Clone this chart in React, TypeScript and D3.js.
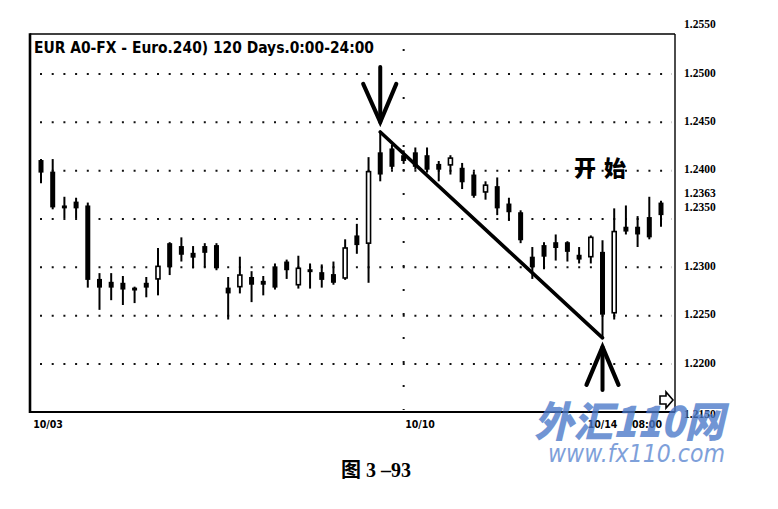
import React from "react";
import * as d3 from "d3";

// ---- data (4-hour candles, EUR) ----
const opens = [1.2411,1.2399,1.2364,1.2368,1.2364,1.2288,1.2285,1.2284,1.2279,1.2284,1.2288,1.2325,1.2322,1.2315,1.2322,1.2323,1.2279,1.2280,1.2290,1.2286,1.2301,1.2306,1.2282,1.2298,1.2295,1.2293,1.2289,1.2333,1.2325,1.2419,1.2423,1.2416,1.2419,1.2416,1.2407,1.2406,1.2403,1.2396,1.2378,1.2384,1.2366,1.2357,1.2311,1.2323,1.2326,1.2326,1.2313,1.2311,1.2316,1.2253,1.2342,1.2342,1.2352,1.2367];
const highs = [1.2412,1.2412,1.2373,1.2372,1.2367,1.2294,1.2294,1.2291,1.2280,1.2290,1.2320,1.2326,1.2331,1.2322,1.2325,1.2325,1.2290,1.2311,1.2296,1.2291,1.2304,1.2308,1.2312,1.2304,1.2303,1.2306,1.2329,1.2345,1.2414,1.2440,1.2427,1.2421,1.2424,1.2424,1.2410,1.2416,1.2408,1.2399,1.2389,1.2393,1.2372,1.2359,1.2321,1.2326,1.2334,1.2327,1.2321,1.2333,1.2328,1.2361,1.2364,1.2353,1.2373,1.2369];
const lows = [1.2387,1.2360,1.2351,1.2351,1.2279,1.2256,1.2266,1.2261,1.2263,1.2269,1.2271,1.2292,1.2306,1.2299,1.2300,1.2297,1.2246,1.2273,1.2264,1.2271,1.2277,1.2288,1.2278,1.2278,1.2279,1.2282,1.2287,1.2314,1.2284,1.2389,1.2401,1.2407,1.2401,1.2398,1.2389,1.2396,1.2381,1.2372,1.2370,1.2354,1.2348,1.2325,1.2288,1.2298,1.2307,1.2306,1.2304,1.2304,1.2227,1.2246,1.2334,1.2321,1.2329,1.2342];
const closes = [1.2398,1.2362,1.2361,1.2361,1.2287,1.2279,1.2279,1.2277,1.2276,1.2279,1.2301,1.2300,1.2313,1.2310,1.2315,1.2299,1.2273,1.2292,1.2282,1.2282,1.2279,1.2297,1.2299,1.2295,1.2287,1.2284,1.2320,1.2323,1.2399,1.2396,1.2404,1.2410,1.2404,1.2401,1.2401,1.2413,1.2388,1.2374,1.2385,1.2361,1.2357,1.2328,1.2300,1.2311,1.2320,1.2316,1.2308,1.2331,1.2251,1.2337,1.2337,1.2334,1.2331,1.2354];

const priceTicks = [1.255, 1.25, 1.245, 1.24, 1.2363, 1.235, 1.23, 1.225, 1.22, 1.215];
const gridValues = [1.25, 1.245, 1.24, 1.235, 1.23, 1.225, 1.22];
const dateLabels = ["10/03", "10/10", "10/14", "08:00"];
const dateIndex = [0.6, 32.4, 48, 51.8];
const dayLineIndex = [31];
const trendFrom = 29; // top candle index
const trendTo = 48; // bottom candle index
const titleText = "EUR A0-FX - Euro.240) 120 Days.0:00-24:00";
const noteText = "开始";
const captionText = "图 3 –93";

const W = 778;
const H = 509;

export default function App() {
  const x = d3.scaleLinear().domain([0, opens.length - 1]).range([41, 661]);
  const y = d3.scaleLinear().domain([1.215, 1.255]).range([412.3, 25.7]);

  const L = 30, R = 675, T = 34, B = 412;
  const bodyW = 5;

  const x1 = x(trendFrom), y1 = y(highs[trendFrom]);
  const x2 = x(trendTo), y2 = y(lows[trendTo]);

  const labelOffset = (v: number) => (v === 1.2363 ? -12 : v === 1.235 ? -11 : v === 1.215 ? 3 : 0);

  const line = d3.line();

  return (
    <svg width={W} height={H} style={{ position: "absolute", left: 0, top: 0, background: "#fff" }}>
      <rect width={W} height={H} fill="#fff" />
      {/* horizontal dotted grid */}
      {gridValues.map((v) => (
        <line key={v} x1={40} x2={672} y1={y(v)} y2={y(v)} stroke="#111" strokeWidth={2} strokeDasharray="2 9.7" />
      ))}
      {/* vertical dotted day line */}
      {dayLineIndex.map((i) => (
        <line key={i} x1={x(i)} x2={x(i)} y1={y(1.25) - 25} y2={B - 2} stroke="#111" strokeWidth={2} strokeDasharray="2 22" />
      ))}

      {/* frame */}
      <line x1={L} x2={R} y1={T} y2={T} stroke="#000" strokeWidth={1.6} />
      <line x1={R} x2={R} y1={T} y2={B} stroke="#000" strokeWidth={1.4} />
      <line x1={L} x2={R} y1={B} y2={B} stroke="#000" strokeWidth={2} />
      <line x1={L} x2={L} y1={T - 0.8} y2={B + 1} stroke="#000" strokeWidth={2.6} />

      {/* title */}
      <text x={34} y={53} fontFamily="'Liberation Sans Narrow','DejaVu Sans Condensed','Liberation Sans',sans-serif" fontWeight="bold" fontSize={16} textLength={340} lengthAdjust="spacingAndGlyphs" fill="#000">
        {titleText}
      </text>

      {/* candles */}
      {opens.map((o, i) => {
        const c = closes[i];
        const up = c > o;
        const top = y(Math.max(o, c));
        const bot = y(Math.min(o, c));
        const cx = x(i);
        return (
          <g key={i}>
            <line x1={cx} x2={cx} y1={y(highs[i])} y2={y(lows[i])} stroke="#000" strokeWidth={2} />
            {up ? (
              <rect x={cx - bodyW / 2 + 0.5} y={top} width={bodyW - 1} height={Math.max(bot - top, 1)} fill="#fff" stroke="#000" strokeWidth={1.6} />
            ) : (
              <rect x={cx - bodyW / 2} y={top} width={bodyW} height={Math.max(bot - top, 2)} fill="#000" />
            )}
          </g>
        );
      })}

      {/* trend line */}
      <line x1={x1} y1={y1} x2={x2} y2={y2} stroke="#000" strokeWidth={3.6} strokeLinecap="round" />

      {/* down arrow */}
      <path d={line([[x1, y1 - 65], [x1, y1 - 10]]) || ""} stroke="#000" strokeWidth={4} fill="none" strokeLinecap="round" />
      <path d={line([[x1 - 17, y1 - 48], [x1, y1 - 10], [x1 + 16, y1 - 48]]) || ""} stroke="#000" strokeWidth={4.2} fill="none" strokeLinecap="round" strokeLinejoin="miter" />
      {/* up arrow */}
      <path d={line([[x2, y2 + 9], [x2, y2 + 52]]) || ""} stroke="#000" strokeWidth={4} fill="none" strokeLinecap="round" />
      <path d={line([[x2 - 16, y2 + 47], [x2, y2 + 9], [x2 + 16, y2 + 47]]) || ""} stroke="#000" strokeWidth={4.2} fill="none" strokeLinecap="round" strokeLinejoin="miter" />

      {/* note */}
      <text x={574} y={176} fontFamily="'Noto Sans CJK SC',sans-serif" fontWeight={900} fontSize={22} letterSpacing={8} fill="#000">
        {noteText}
      </text>

      {/* right price labels */}
      {priceTicks.map((v) => (
        <text key={v} x={684} y={y(v) + labelOffset(v)} dominantBaseline="middle" fontFamily="'Liberation Serif','DejaVu Serif',serif" fontWeight="bold" fontSize={11.5} fill="#000">
          {v.toFixed(4)}
        </text>
      ))}

      {/* date labels */}
      {dateLabels.map((t, k) => (
        <text key={t} x={x(dateIndex[k])} y={425} textAnchor="middle" dominantBaseline="middle" fontFamily="'DejaVu Sans Condensed','Liberation Sans',sans-serif" fontWeight="bold" fontSize={10.5} fill="#000">
          {t}
        </text>
      ))}

      {/* small nav icon */}
      <path d="M660,396 L666,396 L666,392 L673,400 L666,408 L666,404 L660,404 Z" fill="#fff" stroke="#000" strokeWidth={1.6} />

      {/* watermark */}
      <g opacity={0.78}>
        <text x={534} y={437} fontFamily="'Noto Sans CJK SC',sans-serif" fontWeight={900} fontStyle="italic" fontSize={42} fill="#4a78c8" textLength={190} lengthAdjust="spacingAndGlyphs">
          外汇110网
        </text>
        <text x={548} y={462} fontFamily="'DejaVu Sans','Liberation Sans',sans-serif" fontStyle="italic" fontSize={25} fill="#5b86d0" textLength={177} lengthAdjust="spacingAndGlyphs">
          www.fx110.com
        </text>
      </g>

      {/* caption */}
      <text x={376} y={477} textAnchor="middle" fontFamily="'Liberation Serif','Noto Sans CJK SC',serif" fontWeight="bold" fontSize={20} fill="#000">
        {captionText}
      </text>
    </svg>
  );
}
